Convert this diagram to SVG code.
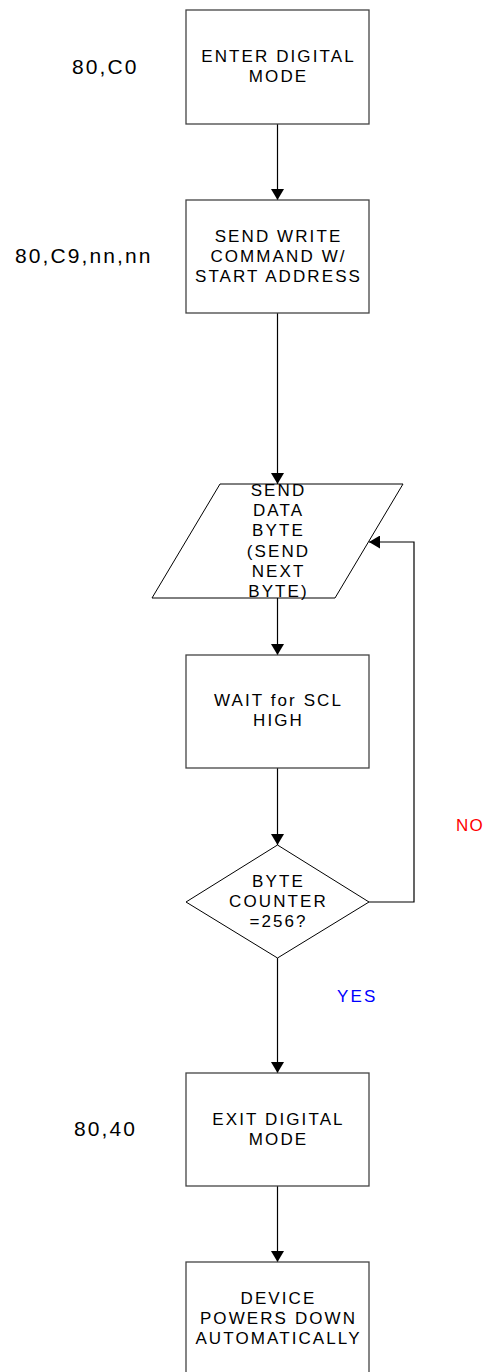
<svg xmlns="http://www.w3.org/2000/svg" width="483" height="1372" viewBox="0 0 483 1372">
<style>
.box{fill:#fff;stroke:#444;stroke-width:1.3}
.shp{fill:#fff;stroke:#000;stroke-width:1}
.t{font-family:"Liberation Sans",Arial,sans-serif;font-size:17px;letter-spacing:2.1px;text-anchor:middle;fill:#000}
.lbl{font-family:"Liberation Sans",Arial,sans-serif;font-size:21px;letter-spacing:2.1px;fill:#000}
.c{fill:none;stroke:#000;stroke-width:1.2}
</style>
<defs>
<marker id="ah" markerUnits="userSpaceOnUse" markerWidth="13" markerHeight="13" refX="11" refY="6.5" orient="auto">
<path d="M0,0 L11,6.5 L0,13 z" fill="#000"/>
</marker>
</defs>
<rect width="483" height="1372" fill="#fff"/>
<g id="connectors">
<line class="c" x1="277.5" y1="124" x2="277.5" y2="200" marker-end="url(#ah)"/>
<line class="c" x1="277.5" y1="313" x2="277.5" y2="484" marker-end="url(#ah)"/>
<line class="c" x1="277.5" y1="598" x2="277.5" y2="655" marker-end="url(#ah)"/>
<line class="c" x1="277.5" y1="768" x2="277.5" y2="845" marker-end="url(#ah)"/>
<line class="c" x1="277.5" y1="958" x2="277.5" y2="1073" marker-end="url(#ah)"/>
<line class="c" x1="277.5" y1="1186" x2="277.5" y2="1262" marker-end="url(#ah)"/>
<polyline class="c" points="369,902 414,902 414,542 369,542" marker-end="url(#ah)"/>
</g>
<g id="lbl-c0"><text class="lbl" x="72" y="74">80,C0</text></g>
<g id="lbl-c9"><text class="lbl" x="15" y="263">80,C9,nn,nn</text></g>
<g id="lbl-40"><text class="lbl" x="74" y="1136">80,40</text></g>
<g id="n1">
<rect class="box" x="186" y="10" width="183" height="114"/>
<text class="t" x="278.5" y="62">ENTER DIGITAL</text>
<text class="t" x="278.5" y="82">MODE</text>
</g>
<g id="n2">
<rect class="box" x="186" y="200" width="183" height="113"/>
<text class="t" x="278.5" y="242">SEND WRITE</text>
<text class="t" x="278.5" y="262">COMMAND W/</text>
<text class="t" x="278.5" y="282">START ADDRESS</text>
</g>
<g id="n3">
<polygon class="shp" points="220,484 403,484 335,598 152,598"/>
<text class="t" x="278.5" y="496">SEND</text>
<text class="t" x="278.5" y="516">DATA</text>
<text class="t" x="278.5" y="536">BYTE</text>
<text class="t" x="278.5" y="557">(SEND</text>
<text class="t" x="278.5" y="577">NEXT</text>
<text class="t" x="278.5" y="597">BYTE)</text>
</g>
<g id="n4">
<rect class="box" x="186" y="655" width="183" height="113"/>
<text class="t" x="278.5" y="706">WAIT for SCL</text>
<text class="t" x="278.5" y="726">HIGH</text>
</g>
<g id="n5">
<polygon class="shp" points="277.5,845 369,902 277.5,958 186,902"/>
<text class="t" x="278.5" y="887">BYTE</text>
<text class="t" x="278.5" y="907">COUNTER</text>
<text class="t" x="278.5" y="927">=256?</text>
</g>
<g id="lbl-no"><text class="t" x="456" y="831" style="text-anchor:start;fill:#f00;letter-spacing:1.2px">NO</text></g>
<g id="lbl-yes"><text class="t" x="337" y="1002" style="text-anchor:start;fill:#00f">YES</text></g>
<g id="n6">
<rect class="box" x="186" y="1073" width="183" height="113"/>
<text class="t" x="278.5" y="1125">EXIT DIGITAL</text>
<text class="t" x="278.5" y="1145">MODE</text>
</g>
<g id="n7">
<rect class="box" x="186" y="1262" width="183" height="114"/>
<text class="t" x="278.5" y="1304">DEVICE</text>
<text class="t" x="278.5" y="1324">POWERS DOWN</text>
<text class="t" x="278.5" y="1344">AUTOMATICALLY</text>
</g>
</svg>
